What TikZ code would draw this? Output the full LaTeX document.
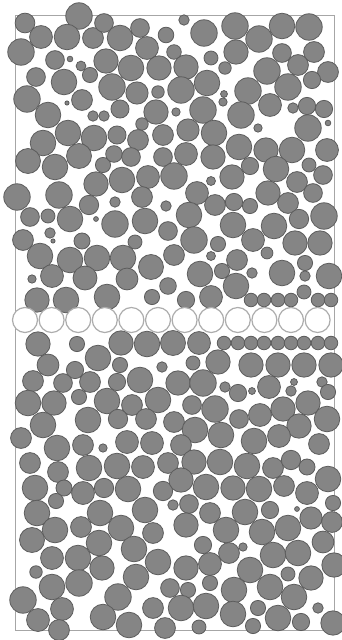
\documentclass[tikz,border=0pt]{standalone}
\begin{document}
\begin{tikzpicture}[x=1pt,y=-1pt,
  grain/.style={fill=black!48,draw=black!64,line width=0.8pt},
  hollow/.style={fill=white,draw=black!32,line width=1.2pt},
  frame/.style={draw=black!35,line width=1pt}]
\useasboundingbox (0,0) rectangle (342,640);
\fill[white] (0,0) rectangle (342,640);
\draw[frame] (15,15) rectangle (334,630);
\foreach \x/\y/\r in {
79/16/12.7,25/23/9.5,41/37/11,67/37/12.3,93/38/10,104/23/9,120/38/12.3,140/28/9,147/48/11,166/35/7.5,
21/52/12.7,55/60/9,70/59/2.7,81/66/4.7,90/75/7.3,106/61/11.7,131/68/12.3,159/68/11.7,36/77/9,64/82/12.3,
112/87/12.7,137/93/10.7,158/92/6,27/99/12.7,82/100/10,67/103/2,48/115/12.3,93/116/5,104/116/5,120/109/8.7,
156/112/11.7,142/124/6,43/143/12.3,68/133/12.3,94/138/12.3,117/135/8.7,138/140/10,163/135/10,
28/161/12,55/167/12.3,79/156/12,103/165/7.3,114/154/8,131/157/9,163/157/9,17/197/12.7,59/195/12.7,
96/184/11.7,122/180/12.3,148/177/11,89/205/9.3,115/202/5,142/197/10,166/206/5,30/217/9,48/216/6.7,
70/219/12.3,96/219/2.3,115/224/12.7,145/221/12.3,23/240/10,50/233/5,53/241/2,82/241/7.7,135/242/6.7,
40/256/12.3,70/260/12.3,97/258/12.3,123/258/12.3,151/267/12,174/255/10,168/286/8,
32/279/4,52/276/11,85/278/11.5,127/279/10.5,
37/300/11.7,66/300/12.3,107/297/12.3,152/297/7.3,
184/20/5,204/33/12.7,235/26/12.7,259/39/12.7,282/26/12.3,309/27/12.7,174/52/7,211/58/6.7,236/52/11.7,
282/53/9,314/52/10,186/67/11.7,225/68/6,267/71/12.7,298/65/10,328/72/10,312/80/8.3,207/83/12.3,
181/90/12.7,248/91/12.7,288/87/12.7,224/94/3.3,223/102/4,203/110/12.7,241/115/12.7,270/105/11,
293/108/5,307/106/8.3,324/109/8.3,328/123/2.7,176/112/4,188/130/10.7,214/133/12.3,258/128/4,
308/128/12.7,239/147/12.3,266/150/11.7,292/150/12.3,327/150/11,186/154/11,213/157/11.7,
174/176/12.7,250/166/8.3,276/169/12.3,309/165/6.7,323/175/9,211/181/4.3,232/177/11.7,297/182/10,
197/193/11,268/193/11.7,313/193/9,215/205/10,234/202/8.3,250/206/7.3,288/203/10,189/215/12.3,
233/225/12.3,274/226/12.3,299/219/9.3,324/216/12.7,168/231/9,194/240/12.7,218/244/7.3,253/240/11,
295/243/11.7,320/243/11.7,211/256/4.3,237/260/10,267/253/5.7,305/263/7.3,200/274/12.3,222/271/7.3,
252/273/5,282/273/12.3,305/276/5,329/276/12.3,
186/300/8.3,211/297/11,236/286/12.3,304/292/6.7,
251/300/6.5,264/300/6.5,278/300/6.5,291/300/6.5,318/300/6.5,331/300/6.5,
38/344/11.7,77/344/7.3,98/358/12.3,121/343/11.7,147/344/12.3,173/343/12,48/365/10.5,75/370/8.3,
120/365/7.3,162/367/5,33/381/10,63/383/9,90/382/10,117/382/8.3,140/380/12.3,28/403/12.3,54/403/11.7,
79/397/7.3,107/401/12.3,132/405/10,158/400/12.3,43/425/12.3,88/420/12.3,118/419/9.3,146/419/10,
21/438/10,57/448/12.3,83/445/10,103/448/4,127/442/11,152/443/11,
199/343/11,224/343/6.5,238/343/6.5,251/343/6.5,264/343/6.5,278/343/6.5,291/343/6.5,304/343/6.5,
318/343/6.5,331/343/6.5,
193/363/6.7,218/362/11.7,251/365/11.7,278/365/11.7,304/365/11.7,331/365/11.7,178/383/11.7,
203/383/12.7,225/387/5,238/393/8.3,252/391/3.3,269/387/11,291/391/5,294/382/3.3,322/382/5,
328/392/7.3,192/405/9,215/409/12.7,239/419/9,260/415/11,283/409/11.7,308/403/11.7,174/422/10,
327/419/12.3,299/426/11.7,195/430/12.3,221/435/12.3,254/441/12.3,279/436/11,319/444/10,181/445/10,
30/463/10,58/472/10,89/468/12.3,117/466/12.3,143/467/11,168/463/10,35/488/12.3,64/488/7.7,83/493/11,
104/488/9.3,128/489/12.3,163/491/9.3,56/501/7.3,37/513/12.3,100/513/12.3,145/510/12.3,55/530/12.3,
81/527/10,121/528/12.3,153/533/10,32/540/12,99/543/12.3,134/549/12.3,
52/558/11,78/558/12.3,102/568/11.7,158/562/12.3,36/572/6,52/587/12.3,79/583/12.7,136/577/12.3,
170/588/9,23/600/12.7,118/597/12.7,62/609/11,38/620/11,103/617/12.3,153/608/10,59/630/10,
129/625/12.3,165/628/10,
194/462/11.7,220/462/12.3,247/466/12.3,273/468/10,291/460/9.3,307/467/7.7,328/479/12.3,181/480/11.7,
206/487/12.3,233/488/11.7,259/489/12.3,284/486/10,307/493/11,333/503/7.3,173/505/5,189/504/9,
210/513/10,245/512/12.3,270/510/8.3,297/509/2.3,311/518/10.7,332/522/10,186/525/11.7,226/530/12.3,
262/532/12.3,288/528/12.3,323/542/10.5,203/545/8.3,229/553/10,243/547/4,273/555/12.3,298/553/12.3,
334/565/11.7,186/568/11.7,210/564/11,250/570/12.3,288/574/6.7,311/578/11.7,188/590/7.3,210/583/7.3,
234/590/12.3,270/587/12.3,294/597/12.3,181/608/12.3,206/606/12.3,233/614/12.3,258/608/7.3,
278/618/12.3,301/622/8.3,318/608/5,333/623/11.7,199/627/6.7,253/626/7.3}
  \path[grain] (\x,\y) circle[radius=1.04*\r];
\foreach \k in {0,...,11}
  \path[hollow] ({25+26.6*\k},320) circle[radius=12.5];
\end{tikzpicture}
\end{document}
